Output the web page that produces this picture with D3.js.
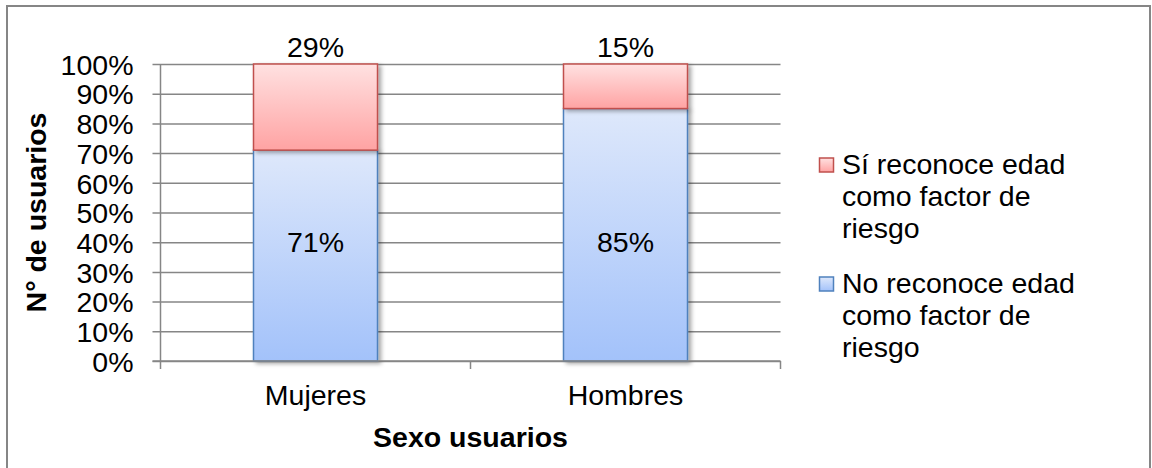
<!DOCTYPE html>
<meta charset="utf-8">
<style>
    body { margin: 0; background: #fff; }
    text { font-family: "Liberation Sans", Arial, sans-serif; fill: #000; }
    .grid line { stroke: #868686; stroke-width: 1.5; }
    .axis path, .axis line { stroke: #868686; stroke-width: 1.5; }
</style>
<body>
<script src="https://cdn.jsdelivr.net/npm/d3@7"></script>
<script>
    // data
    var categories = ["Mujeres", "Hombres"];
    var noReconoce = [0.71, 0.85];
    var siReconoce = [0.29, 0.15];
    var yTicks = [0, 0.1, 0.2, 0.3, 0.4, 0.5, 0.6, 0.7, 0.8, 0.9, 1];
    var seriesNames = ["Sí reconoce edad como factor de riesgo", "No reconoce edad como factor de riesgo"];
    var legendLines = [["Sí reconoce edad", "como factor de", "riesgo"], ["No reconoce edad", "como factor de", "riesgo"]];

    var width = 1152, height = 468;
    var plot = {left: 160.5, right: 780.5, top: 64, bottom: 361};
    var fs = 28.5;

    var svg = d3.select("body").append("svg")
        .attr("width", width)
        .attr("height", height);

    var defs = svg.append("defs");
    function grad(id, top, bottom) {
        var g = defs.append("linearGradient").attr("id", id)
            .attr("x1", 0).attr("y1", 0).attr("x2", 0).attr("y2", 1);
        g.append("stop").attr("offset", "0%").attr("stop-color", top);
        g.append("stop").attr("offset", "100%").attr("stop-color", bottom);
    }
    grad("gBlue", "#dee8fb", "#a3c2fa");
    grad("gRed", "#ffe1e1", "#ffa3a3");
    defs.append("filter").attr("id", "shadow")
        .attr("x", "-10%").attr("y", "-10%").attr("width", "130%").attr("height", "130%")
        .append("feDropShadow")
        .attr("dx", 3).attr("dy", 2).attr("stdDeviation", 2)
        .attr("flood-color", "#000").attr("flood-opacity", 0.35);

    // outer frame
    svg.append("rect")
        .attr("x", 7).attr("y", 6)
        .attr("width", 1143).attr("height", 470)
        .attr("fill", "none").attr("stroke", "#868686").attr("stroke-width", 2);

    var x = d3.scaleBand().domain(categories)
        .range([plot.left, plot.right]).paddingInner(0.6).paddingOuter(0.3);
    var y = d3.scaleLinear().domain([0, 1]).range([plot.bottom, plot.top]);

    // gridlines + y ticks
    var yAxis = d3.axisLeft(y).tickValues(yTicks)
        .tickFormat(d3.format(".0%"))
        .tickSize(-(plot.right - plot.left)).tickPadding(27);
    var gy = svg.append("g").attr("class", "axis grid")
        .attr("transform", "translate(" + plot.left + ",0)")
        .call(yAxis);
    gy.select(".domain").remove();
    gy.selectAll(".tick line").attr("x1", -8);
    gy.selectAll(".tick text").attr("font-size", fs).attr("dy", "0.36em");
    svg.append("line")
        .attr("x1", plot.left).attr("x2", plot.left)
        .attr("y1", plot.top).attr("y2", plot.bottom)
        .attr("stroke", "#868686").attr("stroke-width", 1.5);

    // bars
    var bars = svg.append("g");
    categories.forEach(function(c, i) {
        bars.append("rect")
            .attr("x", x(c)).attr("width", x.bandwidth())
            .attr("y", y(noReconoce[i])).attr("height", y(0) - y(noReconoce[i]))
            .attr("fill", "url(#gBlue)").attr("stroke", "#4f81bd").attr("stroke-width", 1.5)
            .attr("filter", "url(#shadow)");
        bars.append("rect")
            .attr("x", x(c)).attr("width", x.bandwidth())
            .attr("y", y(noReconoce[i] + siReconoce[i]))
            .attr("height", y(noReconoce[i]) - y(noReconoce[i] + siReconoce[i]))
            .attr("fill", "url(#gRed)").attr("stroke", "#c0504d").attr("stroke-width", 1.5)
            .attr("filter", "url(#shadow)");
        // data labels
        svg.append("text")
            .attr("x", x(c) + x.bandwidth() / 2).attr("y", y(0.40) + 10)
            .attr("text-anchor", "middle").attr("font-size", fs)
            .text(Math.round(noReconoce[i] * 100) + "%");
        svg.append("text")
            .attr("x", x(c) + x.bandwidth() / 2).attr("y", y(1) - 7)
            .attr("text-anchor", "middle").attr("font-size", fs)
            .text(Math.round(siReconoce[i] * 100) + "%");
    });

    // x axis
    var xAxis = svg.append("g").attr("class", "axis")
        .attr("transform", "translate(0," + plot.bottom + ")");
    xAxis.append("line")
        .attr("x1", plot.left - 8).attr("x2", plot.right);
    var step = (plot.right - plot.left) / categories.length;
    d3.range(categories.length + 1).forEach(function(k) {
        xAxis.append("line")
            .attr("x1", plot.left + k * step).attr("x2", plot.left + k * step)
            .attr("y1", 0).attr("y2", 8);
    });
    categories.forEach(function(c) {
        xAxis.append("text")
            .attr("x", x(c) + x.bandwidth() / 2).attr("y", 44)
            .attr("text-anchor", "middle").attr("font-size", fs)
            .text(c);
    });

    // axis titles
    svg.append("text")
        .attr("x", (plot.left + plot.right) / 2).attr("y", 447)
        .attr("text-anchor", "middle").attr("font-size", fs).attr("font-weight", "bold")
        .text("Sexo usuarios");
    svg.append("text")
        .attr("transform", "translate(46," + (plot.top + plot.bottom) / 2 + ") rotate(-90)")
        .attr("text-anchor", "middle").attr("font-size", fs).attr("font-weight", "bold")
        .text("N° de usuarios");

    // legend
    var legend = svg.append("g").attr("transform", "translate(819,0)");
    var legendFill = ["url(#gRed)", "url(#gBlue)"];
    var legendStroke = ["#c0504d", "#4f81bd"];
    var legendTop = [174, 293];
    seriesNames.forEach(function(s, i) {
        legend.append("rect")
            .attr("x", 0.5).attr("y", legendTop[i] - 16)
            .attr("width", 14).attr("height", 14)
            .attr("fill", legendFill[i]).attr("stroke", legendStroke[i]).attr("stroke-width", 1.5);
        var t = legend.append("text").attr("font-size", fs)
            .attr("x", 23).attr("y", legendTop[i]);
        legendLines[i].forEach(function(l, j) {
            t.append("tspan").attr("x", 23).attr("dy", j ? 32 : 0).text(l);
        });
    });
</script>
</body>
